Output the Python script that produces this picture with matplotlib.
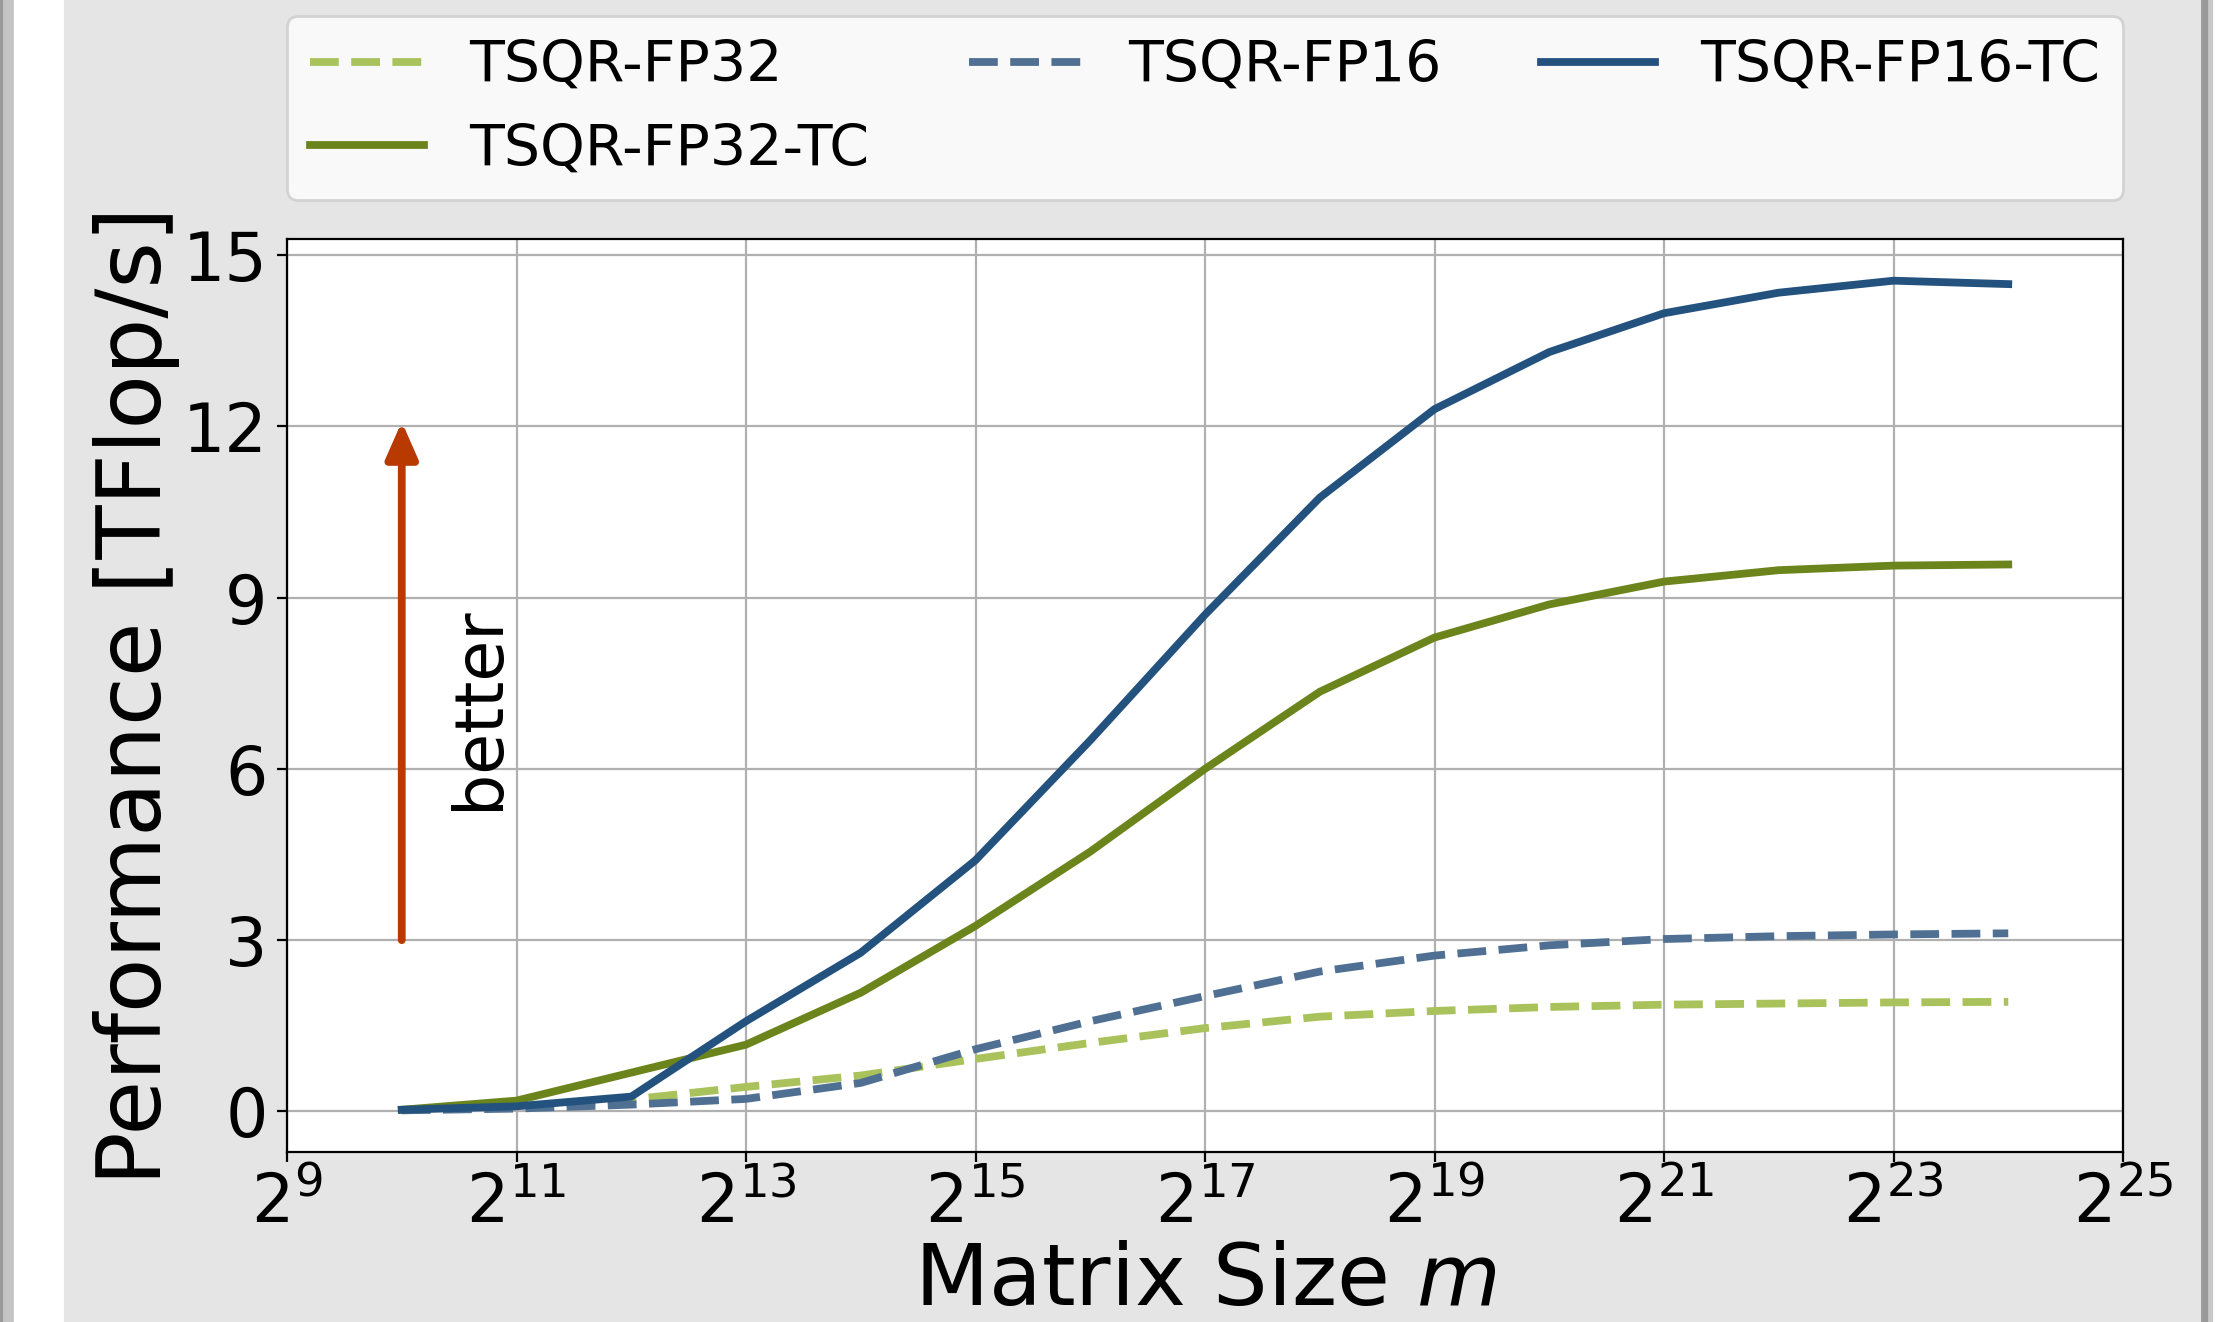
import matplotlib
matplotlib.use("Agg")
import matplotlib.pyplot as plt
from matplotlib.patches import Rectangle
from matplotlib.ticker import NullLocator

# matrix size exponents (m = 2^k)
exponents = list(range(10, 25))

tsqr_fp32 = [0.02, 0.07, 0.21, 0.43, 0.63, 0.92, 1.20, 1.46, 1.66, 1.76, 1.83, 1.87, 1.89, 1.91, 1.92]
tsqr_fp16 = [0.02, 0.05, 0.12, 0.22, 0.50, 1.09, 1.58, 2.02, 2.45, 2.73, 2.91, 3.02, 3.07, 3.10, 3.12]
tsqr_fp16_tc = [0.03, 0.09, 0.26, 1.58, 2.78, 4.40, 6.50, 8.70, 10.75, 12.30, 13.30, 13.98, 14.34, 14.55, 14.49]
tsqr_fp32_tc = [0.03, 0.19, 0.68, 1.17, 2.08, 3.25, 4.55, 6.00, 7.35, 8.30, 8.88, 9.28, 9.48, 9.56, 9.58]

xtick_exp = [9, 11, 13, 15, 17, 19, 21, 23, 25]
yticks = [0, 3, 6, 9, 12, 15]

LW = 2.8
C_FP32 = "#a9c25b"
C_FP32_TC = "#6b841b"
C_FP16 = "#4f7092"
C_FP16_TC = "#23527f"
C_ARROW = "#b83a00"

W, H = 2220, 1322
fig = plt.figure(figsize=(W / 200, H / 200), dpi=200, facecolor="#e5e5e5")

# page-like border strips at the left and right
fig.patches.append(Rectangle((0, 0), 62 / W, 1, transform=fig.transFigure, color="white", zorder=-5))
fig.patches.append(Rectangle((0, 0), 4 / W, 1, transform=fig.transFigure, color="#9a9a9a", zorder=-4))
fig.patches.append(Rectangle((4 / W, 0), 8 / W, 1, transform=fig.transFigure, color="#c4c4c4", zorder=-4))
fig.patches.append(Rectangle((2202 / W, 0), 7 / W, 1, transform=fig.transFigure, color="#9a9a9a", zorder=-4))
fig.patches.append(Rectangle((2209 / W, 0), 5 / W, 1, transform=fig.transFigure, color="#c8c8c8", zorder=-4))
fig.patches.append(Rectangle((2214 / W, 0), 6 / W, 1, transform=fig.transFigure, color="white", zorder=-4))

ax = fig.add_axes([287 / W, 1 - 1152 / H, (2123 - 287) / W, (1152 - 239) / H])
ax.set_facecolor("white")

x = [2.0 ** k for k in exponents]
l1, = ax.plot(x, tsqr_fp32, "--", color=C_FP32, lw=LW, label="TSQR-FP32")
l2, = ax.plot(x, tsqr_fp32_tc, "-", color=C_FP32_TC, lw=LW, label="TSQR-FP32-TC")
l3, = ax.plot(x, tsqr_fp16, "--", color=C_FP16, lw=LW, label="TSQR-FP16")
l4, = ax.plot(x, tsqr_fp16_tc, "-", color=C_FP16_TC, lw=LW, label="TSQR-FP16-TC")

ax.set_xscale("log", base=2)
ax.set_xlim(2.0 ** 9, 2.0 ** 25)
ax.set_xticks([2.0 ** k for k in xtick_exp], labels=[f"$2^{{{k}}}$" for k in xtick_exp])
ax.xaxis.set_minor_locator(NullLocator())
ax.set_ylim(-0.71, 15.28)
ax.set_yticks(yticks)
ax.tick_params(labelsize=24)
ax.grid(True, color="#b0b0b0", lw=0.8)
ax.set_axisbelow(True)

ax.set_xlabel("Matrix Size $m$", fontsize=31, labelpad=1)
ax.set_ylabel("Performance [TFlop/s]", fontsize=32, labelpad=1)

ax.annotate("", xy=(2.0 ** 10, 12.08), xytext=(2.0 ** 10, 3),
            arrowprops=dict(arrowstyle="-|>,head_length=0.5,head_width=0.22",
                            color=C_ARROW, lw=LW, mutation_scale=22,
                            shrinkA=0, shrinkB=0))
ax.text(2.0 ** 10.67, 7.07, "better", rotation=90, ha="center", va="center", fontsize=24)

fig.legend(handles=[l1, l2, l3, l4], ncol=3, mode="expand",
           loc="upper left", bbox_to_anchor=(287 / W, 1 - 16 / H - 0.01, (2123 - 287) / W, 0.01),
           borderaxespad=0, fontsize=20.5)

fig.savefig("out.png", dpi=200, facecolor=fig.get_facecolor())
